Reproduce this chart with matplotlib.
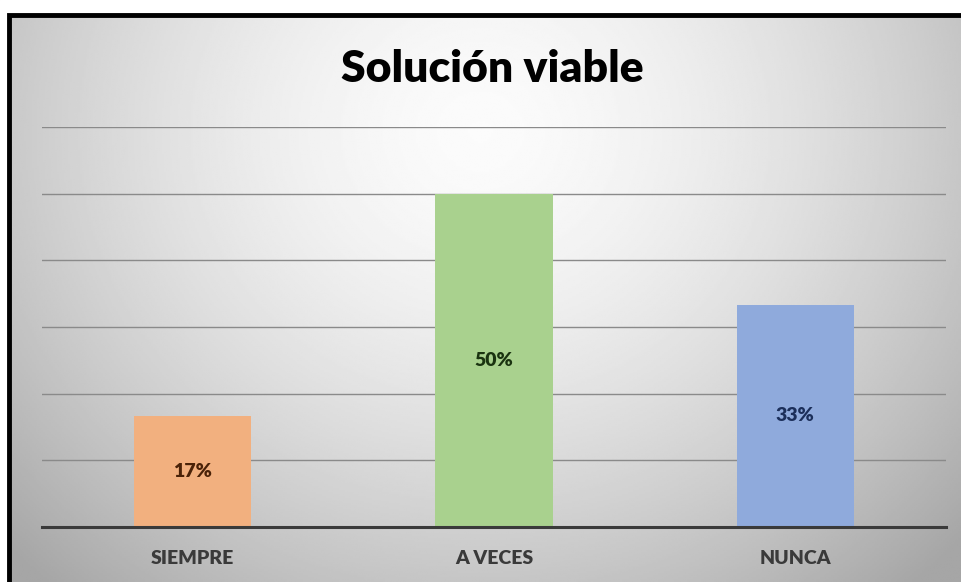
import matplotlib.pyplot as plt
import numpy as np
from matplotlib.patches import Rectangle

# Data
categories = ['SIEMPRE', 'A VECES', 'NUNCA']
values = [16.67, 50.0, 33.33]
labels = ['17%', '50%', '33%']
bar_colors = ['#F2B07F', '#A9D18E', '#8FAADC']
label_colors = ['#4A2208', '#1A3310', '#1C2F5A']

plt.rcParams['font.family'] = ['Lato', 'DejaVu Sans']

fig = plt.figure(figsize=(9.61, 5.82), dpi=100)

# gray gradient background, lightest near the top centre
bg = fig.add_axes([0, 0, 1, 1], zorder=0)
yy, xx = np.mgrid[1:-1:300j, -1:1:500j]
r = np.sqrt((xx / 1.05) ** 2 + ((yy - 0.55) / 1.6) ** 2)
shade = 0.985 - 0.22 * np.clip(r, 0, 1.3) ** 1.6
bg.imshow(shade, cmap='gray', vmin=0, vmax=1, aspect='auto', extent=[0, 1, 0, 1])
bg.set_xlim(0, 1)
bg.set_ylim(0, 1)
bg.axis('off')
# white strip above frame and black border
bg.add_patch(Rectangle((0, 1 - 14 / 582), 1, 14 / 582, color='white', zorder=2))
bg.add_patch(Rectangle((0, 0), 8 / 961, 1, color='white', zorder=2))
bg.plot([9 / 961, 9 / 961, 1], [0, 1 - 15 / 582, 1 - 15 / 582], color='black', lw=3.5, zorder=3,
        solid_joinstyle='miter')

ax = fig.add_axes([42 / 961, (582 - 527) / 582, (946 - 42) / 961, (527 - 127) / 582], zorder=1)
ax.patch.set_alpha(0)
x = np.arange(len(categories))
ax.bar(x, values, width=0.39, color=bar_colors, zorder=3)
ax.set_xlim(-0.5, 2.5)
ax.set_ylim(0, 60)
ax.set_yticks(np.arange(0, 61, 10))
ax.yaxis.grid(True, color='#8a8a8a', lw=1.0, zorder=1)
ax.tick_params(left=False, labelleft=False, bottom=False)
for s in ['top', 'right', 'left']:
    ax.spines[s].set_visible(False)
ax.spines['bottom'].set_color('#3a3a3a')
ax.spines['bottom'].set_linewidth(2.2)
ax.spines['bottom'].set_zorder(4)

ax.set_xticks(x)
ax.set_xticklabels(categories, fontsize=14, fontweight='heavy', color='#3a3a3a')
ax.tick_params(axis='x', pad=13)

for xi, v, lab, c in zip(x, values, labels, label_colors):
    ax.text(xi, v / 2, lab, ha='center', va='center', fontsize=14,
            fontweight='heavy', color=c, zorder=5)

fig.text(0.512, 1 - 69 / 582, 'Solución viable', ha='center', va='center',
         fontsize=32, fontweight='heavy', color='black')

fig.savefig('out.png', dpi=100)
